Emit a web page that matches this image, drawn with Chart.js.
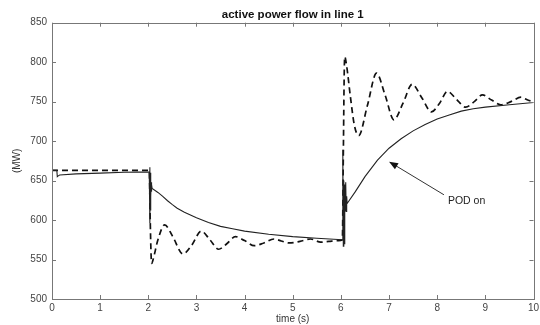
<!DOCTYPE html>
<html>
<head>
<meta charset="utf-8">
<script src="https://cdn.jsdelivr.net/npm/chart.js@4.4.0/dist/chart.umd.min.js"></script>
<style>
  html, body { margin: 0; padding: 0; background: #fff; }
  #wrap { width: 540px; height: 325px; }
</style>
</head>
<body>
<div id="wrap"><canvas id="grafico" width="540" height="325"></canvas></div>
<script>
// ----- dados -----
// POD on (linha continua)
const tempoPod = [0, 0.1, 0.11, 0.13, 0.16, 0.5, 1.0, 1.5, 2.02, 2.03, 2.035, 2.04, 2.045, 2.05, 2.055, 2.06, 2.065, 2.07, 2.08,
  2.2, 2.3, 2.4, 2.5, 2.6, 2.75, 3.0, 3.25, 3.5, 3.75, 4.0, 4.5, 5.0, 5.5, 6.03, 6.04, 6.05, 6.06, 6.07, 6.08, 6.09,
  6.1, 6.11, 6.12, 6.13, 6.3, 6.5, 6.76, 7.0, 7.25, 7.5, 7.75, 8.0, 8.25, 8.5, 8.75, 9.0, 9.5, 10];
const potPod = [663, 663, 655, 656, 657, 658.5, 659.5, 660.5, 661, 667, 596, 660, 612, 652, 630, 648, 636, 645, 640,
  635, 630, 624.5, 619.5, 615, 610, 603, 597, 592, 589, 586, 582, 579, 577, 575, 689, 567, 650, 570, 645, 612,
  648, 611, 630, 621, 636, 655, 676, 691, 703, 713, 721, 728, 733, 738, 741, 743, 746, 749];

// sem POD (tracejada)
const tempoSem = [0, 1.0, 2.02, 2.04, 2.06, 2.07, 2.1, 2.2, 2.34, 2.5, 2.72, 2.9, 3.1, 3.28, 3.46, 3.63, 3.81,
  4.0, 4.2, 4.4, 4.61, 4.76, 4.92, 5.15, 5.37, 5.58, 5.75, 5.95, 6.03, 6.05, 6.07, 6.08, 6.12, 6.2, 6.28, 6.37,
  6.55, 6.74, 6.92, 7.1, 7.29, 7.48, 7.68, 7.88, 8.05, 8.21, 8.4, 8.59, 8.77, 8.94, 9.13, 9.32, 9.53, 9.74, 9.88, 10];
const potSem = [663, 663, 663, 600, 552, 545, 550, 575, 594, 580, 557, 568, 586, 575, 563, 570, 579,
  574, 567.5, 571, 576, 573.5, 571, 573, 576, 572, 573, 574, 575, 680, 790, 807, 795, 755, 720, 707,
  745, 786, 758, 727, 748, 772, 755, 737, 748, 763, 753, 743, 750, 758.5, 752, 746, 750, 755.6, 752, 750];

// eixos
const ticksX = [0, 1, 2, 3, 4, 5, 6, 7, 8, 9, 10];
const ticksY = [500, 550, 600, 650, 700, 750, 800, 850];

// textos
const titulo = "active power flow in line 1";
// anotacao "POD on": ponta da seta e texto (em coordenadas de dados)
const setaPonta = { x: 7.0, y: 674 };
const setaBase = { x: 8.14, y: 632 };
const textoPod = "POD on";

const fonte = "'Liberation Sans', Arial, sans-serif";
const corEixo = "#777";

// caixa + ticks para dentro (estilo matlab), titulo e anotacao
const moldura = {
  id: "moldura",
  afterDraw(chart) {
    const ctx = chart.ctx;
    const a = chart.chartArea;
    const sx = chart.scales.x;
    const sy = chart.scales.y;
    ctx.save();
    ctx.strokeStyle = corEixo;
    ctx.lineWidth = 1;
    ctx.strokeRect(Math.round(a.left) + 0.5, Math.round(a.top) + 0.5,
      Math.round(a.right - a.left), Math.round(a.bottom - a.top));
    ctx.beginPath();
    ticksX.forEach(v => {
      const px = Math.round(sx.getPixelForValue(v)) + 0.5;
      ctx.moveTo(px, a.bottom); ctx.lineTo(px, a.bottom - 4);
      ctx.moveTo(px, a.top); ctx.lineTo(px, a.top + 4);
    });
    ticksY.forEach(v => {
      const py = Math.round(sy.getPixelForValue(v)) + 0.5;
      ctx.moveTo(a.left, py); ctx.lineTo(a.left + 4, py);
      ctx.moveTo(a.right, py); ctx.lineTo(a.right - 4, py);
    });
    ctx.stroke();

    // titulo centrado na area do grafico
    ctx.fillStyle = "#111";
    ctx.font = "bold 11.5px " + fonte;
    ctx.textAlign = "center";
    ctx.textBaseline = "middle";
    ctx.fillText(titulo, (a.left + a.right) / 2, 15);

    // seta
    const x1 = sx.getPixelForValue(setaBase.x), y1 = sy.getPixelForValue(setaBase.y);
    const x2 = sx.getPixelForValue(setaPonta.x), y2 = sy.getPixelForValue(setaPonta.y);
    const ang = Math.atan2(y2 - y1, x2 - x1);
    ctx.strokeStyle = "#333";
    ctx.beginPath();
    ctx.moveTo(x1, y1);
    ctx.lineTo(x2 - 6 * Math.cos(ang), y2 - 6 * Math.sin(ang));
    ctx.stroke();
    ctx.fillStyle = "#111";
    ctx.beginPath();
    ctx.moveTo(x2, y2);
    ctx.lineTo(x2 - 9 * Math.cos(ang) + 3.5 * Math.sin(ang), y2 - 9 * Math.sin(ang) - 3.5 * Math.cos(ang));
    ctx.lineTo(x2 - 9 * Math.cos(ang) - 3.5 * Math.sin(ang), y2 - 9 * Math.sin(ang) + 3.5 * Math.cos(ang));
    ctx.closePath();
    ctx.fill();

    ctx.fillStyle = "#222";
    ctx.font = "10.5px " + fonte;
    ctx.textAlign = "left";
    ctx.fillText(textoPod, x1 + 4, y1 + 6);
    ctx.restore();
  }
};

const ctxG = document.getElementById("grafico").getContext("2d");

new Chart(ctxG, {
  type: "line",
  data: {
    datasets: [
      {
        label: "POD on",
        data: tempoPod.map((t, i) => ({ x: t, y: potPod[i] })),
        borderColor: "#222",
        borderWidth: 1.1,
        pointRadius: 0,
        tension: 0
      },
      {
        label: "sem POD",
        data: tempoSem.map((t, i) => ({ x: t, y: potSem[i] })),
        borderColor: "#111",
        borderWidth: 1.7,
        borderDash: [6, 4],
        pointRadius: 0,
        cubicInterpolationMode: "monotone"
      }
    ]
  },
  plugins: [moldura],
  options: {
    responsive: false,
    animation: false,
    layout: { padding: { left: 0, right: 0, top: 22.7, bottom: 0 } },
    plugins: {
      legend: { display: false },
      tooltip: { enabled: false },
      title: { display: false }
    },
    scales: {
      x: {
        type: "linear",
        min: 0,
        max: 10,
        afterBuildTicks: s => { s.ticks = ticksX.map(v => ({ value: v })); },
        afterFit: s => { s.height = 26; s.paddingRight = 6.5; s.paddingLeft = 0; },
        grid: { display: false, drawTicks: false },
        border: { display: false },
        ticks: { color: "#444", padding: 3, maxRotation: 0, font: { family: fonte, size: 10 } },
        title: { display: true, text: "time (s)", color: "#333", padding: { top: 1, bottom: 0 },
          font: { family: fonte, size: 10 } }
      },
      y: {
        min: 500,
        max: 850,
        afterBuildTicks: s => { s.ticks = ticksY.map(v => ({ value: v })); },
        afterFit: s => { s.width = 52; },
        grid: { display: false, drawTicks: false },
        border: { display: false },
        ticks: { color: "#444", padding: 5, font: { family: fonte, size: 10 } },
        title: { display: true, text: "(MW)", color: "#333", padding: { top: 11, bottom: 0 },
          font: { family: fonte, size: 10 } }
      }
    }
  }
});
</script>
</body>
</html>
